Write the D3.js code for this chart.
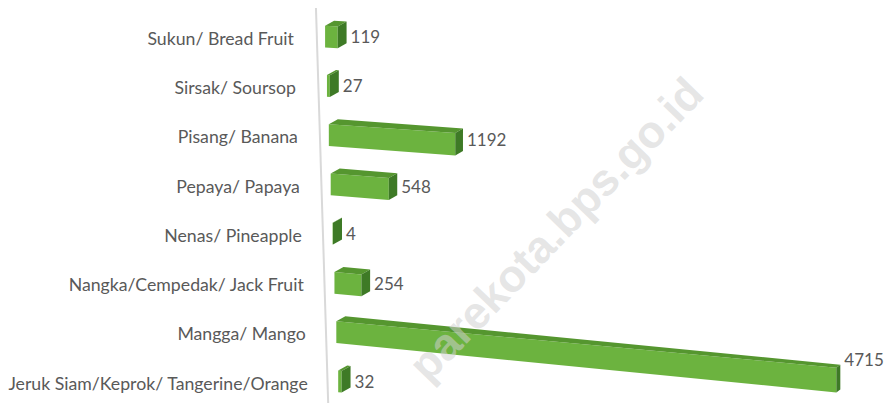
<!DOCTYPE html>
<html>
<head>
<meta charset="utf-8">
<script src="https://cdn.jsdelivr.net/npm/d3@7/dist/d3.min.js"></script>
<style>
  html, body { margin: 0; padding: 0; background: #ffffff; }
  svg { display: block; }
</style>
</head>
<body>
<div id="chart"></div>
<script>
// ---- data ----
const categories = [
  "Sukun/ Bread Fruit",
  "Sirsak/ Soursop",
  "Pisang/ Banana",
  "Pepaya/ Papaya",
  "Nenas/ Pineapple",
  "Nangka/Cempedak/ Jack Fruit",
  "Mangga/ Mango",
  "Jeruk Siam/Keprok/ Tangerine/Orange"
];
const values = [119, 27, 1192, 548, 4, 254, 4715, 32];
const valueLabels = ["119", "27", "1192", "548", "4", "254", "4715", "32"];
const watermarkText = "parekota.bps.go.id";

// ---- layout ----
const W = 889, H = 403;
const svg = d3.select("#chart").append("svg").attr("width", W).attr("height", H);

const y = d3.scaleBand().domain(categories).range([12, 406])
  .paddingInner(0.56).paddingOuter(0.28);
const x = d3.scaleLinear().domain([0, 4715]).range([0, 500]);

// pseudo-3D perspective helpers
const barLeft = yc => 323.7 + 0.038 * yc;     // floor slant
const axisX = yy => 315.7 + 0.031 * yy;
const labelRight = yc => 292.5 + 0.04 * yc;
const slopeTop = yc => 0.053 + 0.00012 * yc;
const grow = 0.006;
const depth = u => [9 - 0.01 * u, -5 + 0.004 * u];

// axis line
svg.append("line")
  .attr("x1", axisX(8)).attr("y1", 8)
  .attr("x2", axisX(H)).attr("y2", H)
  .attr("stroke", "#d9d9d9").attr("stroke-width", 2);

const textColor = "#595959";
const font = "Lato, 'Open Sans', sans-serif";

// category labels
svg.append("g").selectAll("text").data(categories).join("text")
  .attr("x", d => labelRight(y(d) + y.bandwidth() / 2))
  .attr("y", d => y(d) + y.bandwidth() / 2 + 2)
  .attr("dy", "0.35em")
  .attr("text-anchor", "end")
  .attr("font-family", font)
  .attr("font-size", 17.7)
  .attr("fill", textColor)
  .text(d => d);

const rows = categories.map((c, i) => {
  const yc = y(c) + y.bandwidth() / 2;
  const h = y.bandwidth();
  const x0 = barLeft(yc);
  const L = x(values[i]);
  const s = slopeTop(yc);
  const TL = [x0, yc - h / 2];
  const BL = [x0, yc + h / 2];
  const TR = [x0 + L, yc - h / 2 + s * L];
  const BR = [x0 + L, yc + h / 2 + (s + grow) * L];
  const d0 = depth(0), d1 = depth(L);
  const TLb = [TL[0] + d0[0], TL[1] + d0[1]];
  const TRb = [TR[0] + d1[0], TR[1] + d1[1]];
  const BRb = [BR[0] + d1[0], BR[1] + d1[1]];
  return { c, i, yc, L, TL, BL, TR, BR, TLb, TRb, BRb, s, h };
});

const poly = pts => "M" + pts.map(p => p.join(",")).join("L") + "Z";

const bars = svg.append("g").selectAll("g").data(rows).join("g");
bars.append("path").attr("d", r => poly([r.TL, r.TR, r.BR, r.BL]))
  .attr("fill", "#6cb33f");
bars.append("path").attr("d", r => poly([r.TL, r.TLb, r.TRb, r.TR]))
  .attr("fill", "#55962f");
bars.append("path").attr("d", r => poly([r.TR, r.TRb, r.BRb, r.BR]))
  .attr("fill", "#3e7a26");

// value labels
svg.append("g").selectAll("text").data(rows).join("text")
  .attr("font-family", font)
  .attr("font-size", 17)
  .attr("fill", textColor)
  .attr("dy", "0.35em")
  .text(r => valueLabels[r.i])
  .each(function (r) {
    const t = d3.select(this);
    const wText = this.getComputedTextLength();
    let lx = r.TRb[0] + 4;
    if (lx + wText > W - 4) lx = W - 4 - wText;
    const drop = (r.TR[1] + r.BR[1]) / 2 - r.yc;
    t.attr("x", lx).attr("y", r.yc + 0.58 * drop);
  });

// watermark
svg.append("text")
  .attr("transform", "translate(706,96) rotate(-46)")
  .attr("text-anchor", "end")
  .attr("font-family", "'Liberation Sans', Arial, sans-serif")
  .attr("font-weight", "bold")
  .attr("font-size", 45)
  .attr("fill", "#d0d0d0")
  .attr("fill-opacity", 0.55)
  .text(watermarkText);
</script>
</body>
</html>
